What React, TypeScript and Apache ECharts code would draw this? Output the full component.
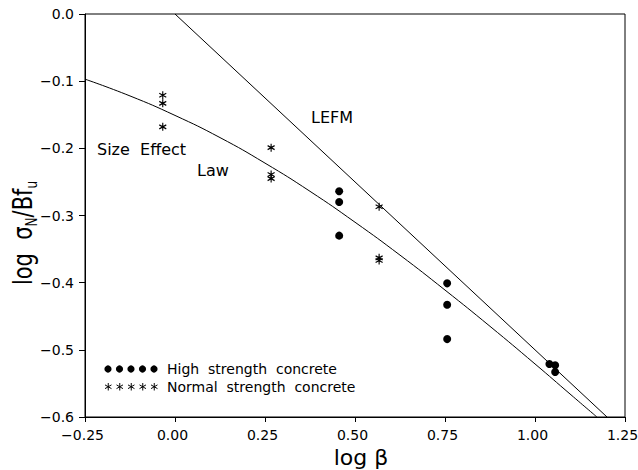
import React, { useEffect, useRef } from "react";
import * as echarts from "echarts";

// Measured points
const highX = [0.456, 0.456, 0.456, 0.756, 0.756, 0.756, 1.04, 1.056, 1.056];
const highY = [-0.264, -0.28, -0.33, -0.401, -0.433, -0.484, -0.521, -0.523, -0.533];
const normalX = [-0.034, -0.034, -0.034, 0.267, 0.267, 0.267, 0.567, 0.567, 0.567];
const normalY = [-0.121, -0.133, -0.168, -0.199, -0.239, -0.245, -0.287, -0.363, -0.367];

// Size effect law curve
const lawX = [-0.25, -0.125, 0, 0.125, 0.25, 0.375, 0.5, 0.625, 0.75, 0.875, 1.0, 1.1, 1.172];
const lawY = [-0.097, -0.122, -0.151, -0.184, -0.222, -0.264, -0.31, -0.359, -0.411, -0.465, -0.521, -0.567, -0.6];

// LEFM asymptote
const lefmX = [0, 1.2];
const lefmY = [0, -0.6];

const FONT = "DejaVu Sans";
const ASTERISK_D = "M5,0L5,10M0.67,2.5L9.33,7.5M0.67,7.5L9.33,2.5";

echarts.graphic.registerShape("asterisk", echarts.graphic.extendPath(ASTERISK_D, {}) as any);

const pairs = (xs: number[], ys: number[]) => xs.map((x, i) => [x, ys[i]]);
const minus = (s: string) => s.replace("-", "\u2212");

export default function App() {
  const ref = useRef<HTMLDivElement>(null);

  useEffect(() => {
    const chart = echarts.init(ref.current!, null, { renderer: "svg" });

    const legendDots = [0, 1, 2, 3, 4].map((i) => ({
      type: "circle",
      shape: { cx: 108 + i * 11.5, cy: 369, r: 3.6 },
      style: { fill: "#000" },
    }));
    const legendStars = [0, 1, 2, 3, 4].map((i) => ({
      type: "asterisk",
      x: 104.5 + i * 11.5,
      y: 383,
      scaleX: 0.75,
      scaleY: 0.75,
      style: { fill: "none", stroke: "#000", lineWidth: 1.3 },
    }));

    chart.setOption({
      animation: false,
      backgroundColor: "#fff",
      grid: {
        left: 85,
        right: 13,
        top: 14,
        bottom: 53,
        outerBoundsMode: "none",
        containLabel: false,
        show: true,
        borderColor: "#000",
        borderWidth: 1,
      },
      xAxis: {
        type: "value",
        min: -0.25,
        max: 1.25,
        interval: 0.25,
        name: "log \u03b2",
        nameLocation: "middle",
        nameGap: 24,
        nameTextStyle: { fontFamily: FONT, fontSize: 22, color: "#000", padding: [0, 0, 0, 12] },
        axisLine: { onZero: false, lineStyle: { color: "#000", width: 1 } },
        axisTick: { show: true, length: 5, lineStyle: { color: "#000" } },
        axisLabel: {
          fontFamily: FONT,
          fontSize: 14,
          color: "#000",
          margin: 11,
          padding: [0, 5, 0, 0],
          formatter: (v: number) => minus(v.toFixed(2)),
        },
        splitLine: { show: false },
      },
      yAxis: {
        type: "value",
        min: -0.6,
        max: 0,
        interval: 0.1,
        axisLine: { show: true, onZero: false, lineStyle: { color: "#000", width: 1 } },
        axisTick: { show: true, length: 6, lineStyle: { color: "#000" } },
        axisLabel: {
          fontFamily: FONT,
          fontSize: 14,
          color: "#000",
          margin: 11,
          formatter: (v: number) => (Math.abs(v) < 1e-9 ? "0.0" : minus(v.toFixed(1))),
        },
        splitLine: { show: false },
      },
      series: [
        {
          name: "LEFM",
          type: "line",
          data: pairs(lefmX, lefmY),
          showSymbol: false,
          lineStyle: { color: "#000", width: 1 },
        },
        {
          name: "Size Effect Law",
          type: "line",
          data: pairs(lawX, lawY),
          smooth: true,
          showSymbol: false,
          lineStyle: { color: "#000", width: 1 },
        },
        {
          name: "High strength concrete",
          type: "scatter",
          data: pairs(highX, highY),
          symbol: "circle",
          symbolSize: 8,
          itemStyle: { color: "#000", opacity: 1 },
        },
        {
          name: "Normal strength concrete",
          type: "scatter",
          data: pairs(normalX, normalY),
          symbol: "path://" + ASTERISK_D,
          symbolSize: [7, 8],
          itemStyle: { color: "none", borderColor: "#000", borderWidth: 1.2, opacity: 1 },
        },
      ],
      graphic: [
        {
          type: "text",
          x: 23,
          y: 233,
          rotation: Math.PI / 2,
          scaleY: 1.25,
          style: {
            text: "{b|log  \u03c3}{s|N}{b|/Bf}{s|u}",
            textAlign: "center",
            textVerticalAlign: "middle",
            fill: "#000",
            rich: {
              b: { fontFamily: FONT, fontSize: 21, lineHeight: 26, verticalAlign: "middle" },
              s: { fontFamily: FONT, fontSize: 12, lineHeight: 26, verticalAlign: "bottom" },
            },
          },
        },
        {
          type: "text",
          x: 311,
          y: 117,
          style: { text: "LEFM", font: `16px "${FONT}"`, fill: "#000", textVerticalAlign: "middle" },
        },
        {
          type: "text",
          x: 97,
          y: 149,
          style: { text: "Size  Effect", font: `16px "${FONT}"`, fill: "#000", textVerticalAlign: "middle" },
        },
        {
          type: "text",
          x: 197,
          y: 170,
          style: { text: "Law", font: `16px "${FONT}"`, fill: "#000", textVerticalAlign: "middle" },
        },
        ...legendDots,
        ...legendStars,
        {
          type: "text",
          x: 167,
          y: 369,
          style: { text: "High  strength  concrete", font: `14px "${FONT}"`, fill: "#000", textVerticalAlign: "middle" },
        },
        {
          type: "text",
          x: 167,
          y: 387,
          style: { text: "Normal  strength  concrete", font: `14px "${FONT}"`, fill: "#000", textVerticalAlign: "middle" },
        },
      ],
    });

    return () => chart.dispose();
  }, []);

  return (
    <div
      ref={ref}
      style={{ position: "absolute", left: 0, top: 0, width: 638, height: 470 }}
    />
  );
}
